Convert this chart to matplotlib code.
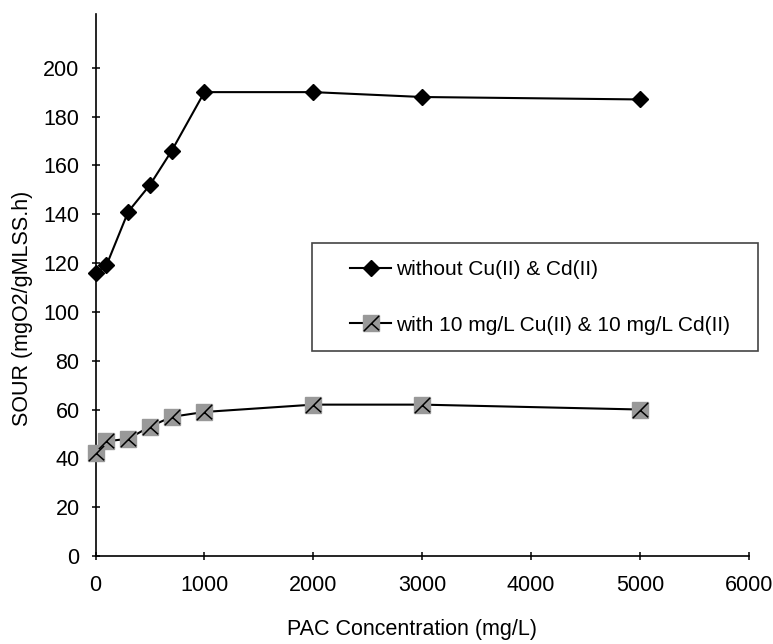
import matplotlib
matplotlib.use("Agg")
import matplotlib.pyplot as plt
from matplotlib.path import Path
from matplotlib.patches import Rectangle

plt.rcParams['font.family'] = ['Liberation Sans', 'DejaVu Sans']

# PAC concentration (mg/L)
pac = [0, 100, 300, 500, 700, 1000, 2000, 3000, 5000]
# SOUR (mgO2/gMLSS.h)
sour_without = [116, 119, 141, 152, 166, 190, 190, 188, 187]
sour_with = [42, 47, 48, 53, 57, 59, 62, 62, 60]

label_without = "without Cu(II) & Cd(II)"
label_with = "with 10 mg/L Cu(II) & 10 mg/L Cd(II)"

# little "K"-like glyph drawn over the grey squares
glyph = Path([(0.45, 0.45), (-0.45, -0.45), (0.0, 0.0), (0.45, -0.4)],
             [Path.MOVETO, Path.LINETO, Path.MOVETO, Path.LINETO])

fs = 15.5
fig = plt.figure(figsize=(7.73, 6.44), dpi=100)
ax = fig.add_axes([95.5 / 773, 88 / 644, 653.5 / 773, 542 / 644])

h1, = ax.plot(pac, sour_without, color='black', lw=1.5, marker='D', ms=8.5,
              mfc='black', mec='black', zorder=3, clip_on=False)
h2, = ax.plot(pac, sour_with, color='black', lw=1.5, marker='s', ms=12,
              mfc='#999999', mec='#999999', zorder=3, clip_on=False)
h2g, = ax.plot(pac, sour_with, ls='none', marker=glyph, ms=11, mec='black',
               fillstyle='none', mew=1.1, zorder=4, clip_on=False)

ax.set_xlim(0, 6000)
ax.set_ylim(0, 222)
ax.set_xticks(range(0, 6001, 1000))
ax.set_yticks(range(0, 201, 20))
ax.spines['top'].set_visible(False)
ax.spines['right'].set_visible(False)
for s in ['left', 'bottom']:
    ax.spines[s].set_linewidth(1.2)
ax.tick_params(direction='inout', length=6, width=1.1, labelsize=fs)
ax.tick_params(axis='x', pad=11)
ax.tick_params(axis='y', pad=8.5)

ax.set_xlabel("PAC Concentration (mg/L)", fontsize=fs)
ax.set_ylabel("SOUR (mgO2/gMLSS.h)", fontsize=fs)
ax.xaxis.set_label_coords(0.484, -0.116)
ax.yaxis.set_label_coords(-0.096, 0.456)

# legend box drawn by hand so its size matches the original
ax.add_patch(Rectangle((0.331, 0.378), 0.683, 0.1995, transform=ax.transAxes,
                       fill=True, facecolor='white', edgecolor='#444444',
                       lw=1.2, clip_on=False, zorder=5))
leg = ax.legend([h1, (h2, h2g)], [label_without, label_with],
                loc='center left', bbox_to_anchor=(0.389, 0.477),
                fontsize=15, frameon=False, handlelength=2.0,
                handletextpad=0.2, borderpad=0, labelspacing=1.75,
                borderaxespad=0, numpoints=1)
leg.set_zorder(6)

fig.savefig("out.png", dpi=100)
